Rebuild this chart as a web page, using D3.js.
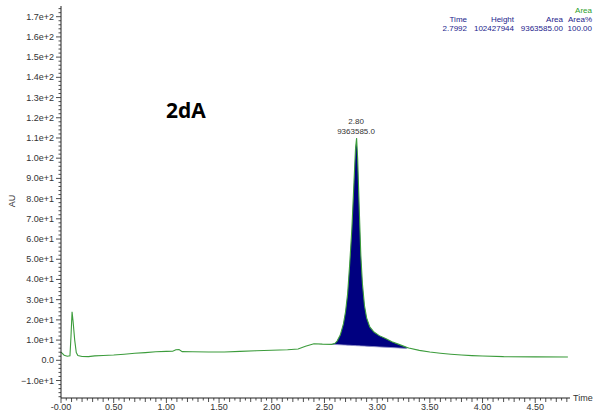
<!DOCTYPE html>
<html><head><meta charset="utf-8">
<script src="https://cdn.jsdelivr.net/npm/d3@7/dist/d3.min.js"></script>
<style>
html,body{margin:0;padding:0;background:#fff;}
svg{display:block;font-family:"Liberation Sans",Arial,sans-serif;}
</style></head>
<body>
<svg id="c" width="593" height="412"></svg>
<script>
const times = [0.00,0.01,0.03,0.06,0.085,0.095,0.105,0.115,0.13,0.145,0.16,0.20,0.26,0.32,0.40,0.50,0.60,0.70,0.80,0.90,1.00,1.06,1.09,1.12,1.15,1.25,1.40,1.55,1.70,1.85,2.00,2.15,2.25,2.32,2.40,2.48,2.57,2.60,2.62,2.65,2.68,2.70,2.72,2.74,2.76,2.78,2.795,2.805,2.815,2.83,2.845,2.86,2.88,2.90,2.93,2.97,3.02,3.08,3.14,3.20,3.28,3.30,3.40,3.50,3.60,3.70,3.80,3.90,4.00,4.20,4.50,4.81];
const values = [4.0,3.5,2.5,2.0,2.2,12,24,19,10,3.8,2.4,1.9,1.8,2.2,2.4,2.6,3.0,3.5,3.8,4.2,4.4,4.5,5.2,5.3,4.3,4.2,4.1,4.1,4.4,4.7,5.0,5.2,5.6,7.0,8.2,8.0,7.9,8.4,9.5,12.5,18,24,33,48,65,88,105,110,100,75,52,38,27,21,16.5,14,12.2,10.8,9.2,8.0,6.4,6.1,4.9,4.1,3.5,3.0,2.6,2.3,2.1,1.8,1.7,1.6];
const peakStart = 2.57, peakEnd = 3.28;
const peakBaseValues = [7.9, 5.9];
const peakRetention = "2.80", peakAreaLabel = "9363585.0";
const tableHeaders = ["Time","Height","Area","Area%"];
const tableValues = ["2.7992","102427944","9363585.00","100.00"];
const xTickLabels = ["-0.00","0.50","1.00","1.50","2.00","2.50","3.00","3.50","4.00","4.50"];
const yTickValues = d3.range(-10, 171, 10);

const svg = d3.select("#c");
const x = d3.scaleLinear().domain([0, 4.83]).range([61, 570]);
const y = d3.scaleLinear().domain([0, 170]).range([360.3, 16.7]);
const yBottom = 398, yTop = 6;

const axisColor = "#222";
const green = "#3c9c3c";
const navy = "#000080";

// peak fill
const pts = times.map((t,i)=>({t, v: values[i]}));
const base = d3.scaleLinear().domain([peakStart, peakEnd]).range(peakBaseValues);
const peakPts = pts.filter(d => d.t >= peakStart - 1e-9 && d.t <= peakEnd + 1e-9);
svg.append("path").datum(peakPts)
  .attr("d", d3.area().x(d=>x(d.t)).y0(d=>y(base(d.t))).y1(d=>y(d.v)))
  .attr("fill", navy);
svg.append("path").datum([peakStart, peakEnd])
  .attr("d", d3.line().x(d=>x(d)).y(d=>y(base(d))))
  .attr("stroke", "#8c8cc8").attr("stroke-width", 0.8).attr("fill","none");

// trace
svg.append("path").datum(pts)
  .attr("d", d3.line().x(d=>x(d.t)).y(d=>y(d.v)))
  .attr("fill","none").attr("stroke", green).attr("stroke-width", 1.1);

// y axis
svg.append("line").attr("x1",61).attr("x2",61).attr("y1",yTop).attr("y2",yBottom).attr("stroke",axisColor);
d3.range(-18, 176, 2).forEach(v=>{
  const major = v % 10 === 0;
  svg.append("line").attr("x1",61).attr("x2", major?56:58.5).attr("y1",y(v)).attr("y2",y(v)).attr("stroke",axisColor).attr("stroke-width",0.8);
});
yTickValues.forEach(v=>{
  svg.append("text").attr("x",54).attr("y",y(v)+3).attr("text-anchor","end")
    .attr("font-size",9).attr("fill","#333").text(v===0?"0.0":d3.format(".1e")(v));
});
svg.append("text").attr("transform","translate(15,201) rotate(-90)").attr("text-anchor","middle")
  .attr("font-size",9).attr("fill","#333").text("AU");

// x axis
svg.append("line").attr("x1",61).attr("x2",570).attr("y1",yBottom).attr("y2",yBottom).attr("stroke",axisColor);
d3.range(0, 97).forEach(i=>{
  const t = i*0.05;
  if (t > 4.83) return;
  const len = (i % 10 === 0) ? 5 : (i % 2 === 0 ? 4 : 2.5);
  svg.append("line").attr("x1",x(t)).attr("x2",x(t)).attr("y1",yBottom).attr("y2",yBottom+len).attr("stroke",axisColor).attr("stroke-width",0.8);
});
xTickLabels.forEach((lab,i)=>{
  svg.append("text").attr("x",x(i*0.5)).attr("y",410).attr("text-anchor","middle")
    .attr("font-size",9).attr("fill","#333").text(lab);
});
svg.append("text").attr("x",573).attr("y",401).attr("font-size",9).attr("fill","#333").text("Time");

// peak label
svg.append("text").attr("x",x(2.80)).attr("y",124).attr("text-anchor","middle").attr("font-size",8).attr("fill","#333").text(peakRetention);
svg.append("text").attr("x",x(2.80)).attr("y",134).attr("text-anchor","middle").attr("font-size",8).attr("fill","#333").text(peakAreaLabel);

// title
svg.append("text").attr("x",166).attr("y",118).attr("font-size",21).attr("font-weight","bold")
  .attr("font-family","'Open Sans','Liberation Sans',sans-serif").attr("fill","#000").text("2dA");

// table
const tableX = [467, 514, 563, 592];
const tc = "#1c1c8c";
svg.append("text").attr("x",592).attr("y",13).attr("text-anchor","end").attr("font-size",8).attr("fill","#2ca02c").text("Area");
tableHeaders.forEach((h,i)=>{
  svg.append("text").attr("x",tableX[i]).attr("y",22).attr("text-anchor","end").attr("font-size",8).attr("fill",tc).text(h);
});
tableValues.forEach((h,i)=>{
  svg.append("text").attr("x",tableX[i]).attr("y",31).attr("text-anchor","end").attr("font-size",8).attr("fill",tc).text(h);
});
</script>
</body></html>
